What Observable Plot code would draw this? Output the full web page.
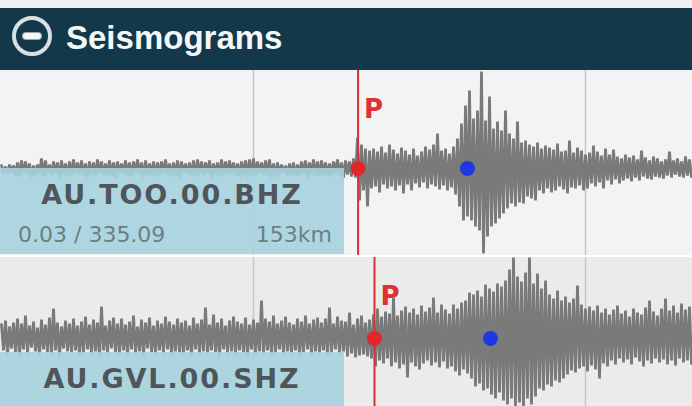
<!DOCTYPE html>
<html><head><meta charset="utf-8">
<script src="https://cdn.jsdelivr.net/npm/d3@7"></script>
<script src="https://cdn.jsdelivr.net/npm/@observablehq/plot@0.6"></script>
<style>
html,body{margin:0;padding:0;overflow:hidden;background:#eef0f1;width:692px;height:406px}
#wrap{position:relative;width:692px;height:406px;overflow:hidden}
#topstrip{height:8px;background:#eef0f1}
#header{height:62px;background:#12384a;position:relative}
#header .t{position:absolute;left:66px;top:13px;font:bold 33px/33px "Liberation Sans",Arial,sans-serif;color:#f4f7f8;white-space:nowrap}
#header svg{position:absolute;left:11px;top:7px}
.panel{position:relative;width:692px;height:185px;overflow:hidden}
.panel svg{display:block}
.sep{height:2px;background:#ffffff}
.label{position:absolute;left:0;width:344px;background:rgba(166,211,223,0.9);font-family:"DejaVu Sans",sans-serif}
.label .name{position:absolute;left:0;width:344px;top:13px;text-align:center;font-weight:bold;font-size:27px;line-height:27px;letter-spacing:1.9px;color:#4f5558;white-space:nowrap}
.label .sub{position:absolute;top:56px;font-size:22px;line-height:22px;color:#6b7e86;white-space:nowrap}
</style>
</head><body>
<div id="wrap">
  <div id="topstrip"></div>
  <div id="header">
    <svg width="42" height="42"><circle cx="21" cy="21" r="18" fill="none" stroke="#d9dfe2" stroke-width="4"/><rect x="11.5" y="17.5" width="19" height="7" rx="3.5" fill="#f4f6f7" stroke="#9aa3a7" stroke-width="1.2"/></svg>
    <div class="t">Seismograms</div>
  </div>
  <div class="panel" id="p1"></div>
  <div class="sep"></div>
  <div class="panel" id="p2"></div>
</div>
<script>
// Station labels
const stations = ["AU.TOO.00.BHZ", "AU.GVL.00.SHZ"];
const subLeft = ["0.03 / 335.09", ""];
const subRight = ["153km", ""];

// Grid line positions (sample index units) and picks
const gridTicks = [62.75, 145.75];
const pPick = [88.9, 93.0];
const bluePick = [116.25, 122];

// Trace 1 (AU.TOO.00.BHZ) amplitude above / below baseline per sample column
const up1 = [3,2,4,3,6,8,7,5,3,4, 10,8,4,7,6,8,5,7,9,6, 8,5,7,6,9,7,5,8,6,7, 5,8,6,7,9,6,8,5,7,6,
  7,9,5,6,8,7,5,6,8,9, 7,6,8,5,6,9,7,8,6,5, 7,8,9,10,7,6,8,9,5,6, 4,3,5,6,4,7,8,6,9,7, 8,6,5,7,9,6,8,7,10,
  31,24,20,18,20,17,22,16,24,19, 15,21,18,14,20,13,17,22,19,24, 35,18,20,15,22,30,45,63,78,50,
  58,97,48,72,40,47,38,58,35,30, 47,26,28,24,22,26,20,23,21,19, 25,17,18,28,16,21,18,14,16,23,
  17,13,20,14,19,12,10,14,11,13, 9,18,11,8,12,10,7,9,17,8, 10,7,12,9];
const dn1 = [5,6,4,7,8,5,6,9,7,5, 8,6,7,5,9,6,8,7,5,6, 7,9,6,8,5,7,6,8,9,5, 6,7,8,5,6,9,7,6,8,7,
  5,6,8,7,9,5,6,7,8,6, 7,5,9,6,8,7,6,5,7,8, 6,9,7,8,5,6,7,9,8,6, 5,7,6,8,7,5,9,6,7,8, 6,7,8,5,7,9,6,8,9,
  32,22,38,20,18,24,16,20,18,22, 17,25,16,22,15,19,14,20,16,18, 21,17,22,19,26,38,52,48,52,58,
  62,85,68,58,55,50,45,40,35,38, 34,35,28,30,32,22,25,20,24,22, 18,21,25,19,20,17,22,20,15,18,
  14,20,12,16,11,15,12,10,13,9, 12,8,10,11,8,9,10,7,9,6, 8,9,7,8];

// Trace 2 (AU.GVL.00.SHZ)
const up2 = [14,18,12,16,20,15,23,13,17,11, 19,14,21,30,16,12,18,15,20,13, 17,22,14,19,16,32,13,18,21,15,
  20,14,17,23,12,19,16,21,13,18, 15,22,17,14,20,16,18,13,21,15, 19,31,14,24,16,20,13,18,22,17,
  15,21,14,19,16,38,20,17,23,15, 18,22,16,14,20,17,23,15,19,21, 16,20,31,15,22,18,17,26,14,20, 23,16,19,
  24,30,22,27,25,41,23,28,32,26, 30,24,33,27,31,41,26,34,29,25, 34,30,36,38,46,44,48,42,54,50,
  47,55,52,58,69,81,62,57,66,81, 55,65,50,58,44,40,48,38,42,36, 40,53,34,30,32,28,33,26,30,24,
  29,33,25,28,22,30,26,24,31,38, 27,23,30,40,28,33,26,35,29,32];
const dn2 = [12,16,10,14,18,11,15,9,13,17, 11,14,16,12,19,10,13,15,12,17, 14,11,16,13,18,12,15,10,14,16,
  12,17,11,15,13,18,10,14,16,12, 15,11,17,13,14,16,12,18,11,15, 13,16,12,14,19,11,15,13,17,12,
  14,18,11,15,13,16,12,17,14,11, 16,13,15,12,18,14,11,16,13,15, 12,17,14,11,16,13,18,15,19,17, 16,18,20,
  28,22,25,20,28,24,30,26,39,24, 28,31,25,22,27,24,29,23,30,28, 33,37,31,35,40,48,45,52,50,56,
  60,54,62,66,60,68,64,68,60,66, 58,50,52,46,48,42,44,40,36,32, 34,30,28,33,27,31,40,25,28,22,
  26,20,24,21,26,19,23,28,22,25, 20,24,21,26,22,27,20,24,22,25];

function zigzag(up, dn) {
  const pts = [];
  up.forEach((u, i) => {
    pts.push({x: i - 0.25, y: u});
    pts.push({x: i + 0.25, y: -dn[i]});
  });
  return pts;
}

function trace(k, up, dn, yTop, yBot, bg) {
  return Plot.plot({
    width: 692, height: 185, margin: 0,
    x: {domain: [-0.5, up.length - 0.5], axis: null},
    y: {domain: [-yBot, yTop], axis: null},
    style: {background: bg},
    marks: [
      Plot.ruleX(gridTicks, {stroke: "#c4c6c8", strokeWidth: 1.5}),
      Plot.line(zigzag(up, dn), {x: "x", y: "y", stroke: "#7a7a7a", strokeWidth: 2.8, strokeLinejoin: "miter", strokeMiterlimit: 1, clip: true}),
      Plot.ruleX([pPick[k]], {stroke: "#d9302f", strokeWidth: 2}),
      Plot.text(["P"], {x: [pPick[k]], frameAnchor: "top", lineAnchor: "bottom", textAnchor: "start",
        dx: 6, dy: 47, fontSize: 26, fontWeight: 600, fill: "#e0302f", fontFamily: "DejaVu Sans"}),
      Plot.dot([pPick[k]], {x: d => d, y: 0, r: 7.5, fill: "#e3262b"}),
      Plot.dot([bluePick[k]], {x: d => d, y: 0, r: 7.5, fill: "#1f36e6"})
    ]
  });
}

function label(k, top) {
  const d = document.createElement("div");
  d.className = "label";
  d.style.top = top + "px";
  d.style.height = "88px";
  const n = document.createElement("div");
  n.className = "name"; n.textContent = stations[k];
  d.appendChild(n);
  if (subLeft[k]) {
    const a = document.createElement("div");
    a.className = "sub"; a.style.left = "18px"; a.textContent = subLeft[k];
    d.appendChild(a);
  }
  if (subRight[k]) {
    const b = document.createElement("div");
    b.className = "sub"; b.style.right = "12px"; b.textContent = subRight[k];
    d.appendChild(b);
  }
  return d;
}

const p1 = document.getElementById("p1");
p1.appendChild(trace(0, up1, dn1, 98, 87, "#f2f3f5"));
const l1 = label(0, 98); l1.style.height = "86px";
p1.appendChild(l1);

const p2 = document.getElementById("p2");
p2.appendChild(trace(1, up2, dn2, 81, 104, "#ebebec"));
p2.appendChild(label(1, 95));
</script>
</body></html>
